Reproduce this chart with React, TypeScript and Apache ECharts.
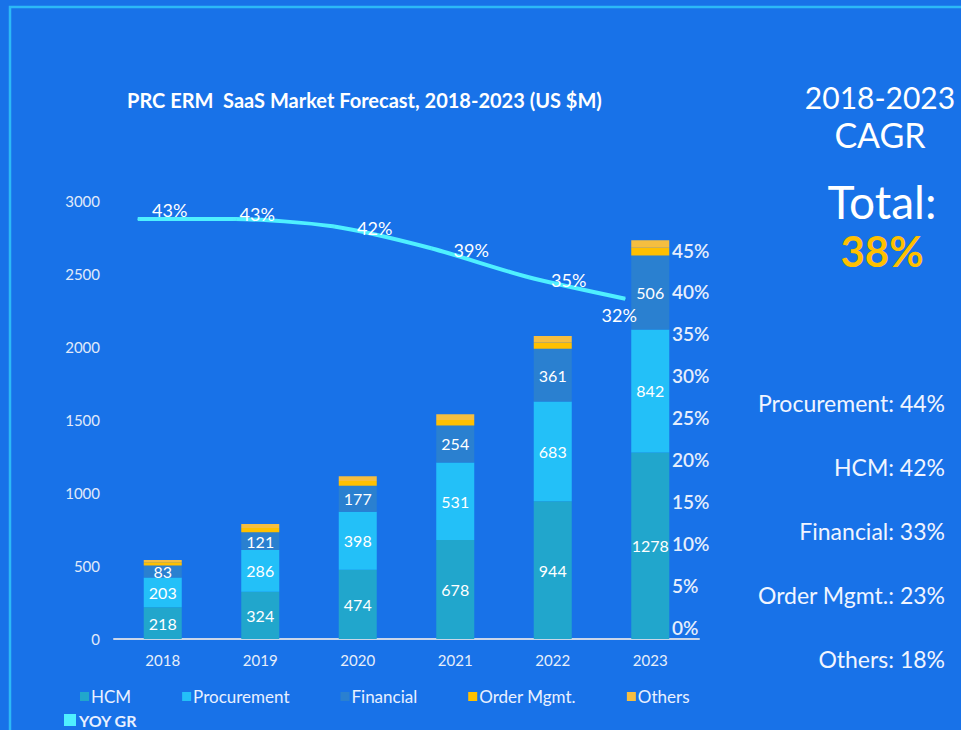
import React, { useEffect, useRef } from "react";
import * as echarts from "echarts";

const years = ["2018", "2019", "2020", "2021", "2022", "2023"];
const hcm = [218, 324, 474, 678, 944, 1278];
const procurement = [203, 286, 398, 531, 683, 842];
const financial = [83, 121, 177, 254, 361, 506];
const orderMgmt = [22, 29, 33, 37, 42, 53];
const others = [15, 27, 32, 39, 45, 52];
const yoyGrowth = [43, 43, 42, 39, 35, 32];
const cagrItems = ["Procurement: 44%", "HCM: 42%", "Financial: 33%", "Order Mgmt.: 23%", "Others: 18%"];
const totalCagr = "38%";
const titleText = "PRC ERM  SaaS Market Forecast, 2018-2023 (US $M)";

const lineLabelOffsets: [number, number][] = [
  [32, -9],
  [22, -5],
  [42, 2],
  [41, 2],
  [41, 3],
  [-6, 16],
];

const FONT = "Lato, 'Open Sans', sans-serif";
const BG = "#1872e8";

export default function App() {
  const ref = useRef<HTMLDivElement>(null);
  useEffect(() => {
    if (!ref.current) return;
    const chart = echarts.init(ref.current, null, { renderer: "svg" });
    const barLabel = {
      show: true,
      position: "inside" as const,
      color: "#ffffff",
      fontSize: 16,
      fontFamily: FONT,
    };
    const mkBar = (name: string, data: number[], color: string, label: boolean) => ({
      name,
      type: "bar",
      stack: "total",
      xAxisIndex: 0,
      yAxisIndex: 0,
      barWidth: 38,
      data,
      itemStyle: { color },
      label: label ? barLabel : { show: false },
    });
    const option: any = {
      animation: false,
      backgroundColor: BG,
      textStyle: { fontFamily: FONT },
      grid: [
        { left: 114, right: 262, top: 201, bottom: 91 },
        { left: 89, right: 287, top: 201, bottom: 91 },
        { left: 114, right: 293, top: 250, bottom: 103 },
      ],
      xAxis: [
        {
          type: "category",
          gridIndex: 0,
          data: years,
          axisLine: { lineStyle: { color: "#c9d6ea", width: 2 } },
          axisTick: { show: false },
          axisLabel: { color: "#e6eefa", fontSize: 15, margin: 13, fontFamily: FONT },
        },
        { type: "category", gridIndex: 1, data: years, show: false },
        { type: "category", gridIndex: 2, data: years, show: false },
      ],
      yAxis: [
        {
          type: "value",
          gridIndex: 0,
          min: 0,
          max: 3000,
          interval: 500,
          axisLine: { show: false },
          axisTick: { show: false },
          splitLine: { show: false },
          axisLabel: {
            color: "#e0eafa",
            fontSize: 15,
            margin: 14,
            fontFamily: FONT,
            formatter: (v: number) => String(v),
          },
        },
        { type: "value", gridIndex: 1, min: -15, max: 45.5, show: false },
        {
          type: "value",
          gridIndex: 2,
          position: "right",
          min: 0,
          max: 45,
          interval: 5,
          axisLine: { show: false },
          axisTick: { show: false },
          splitLine: { show: false },
          axisLabel: {
            color: "#e6eefc",
            fontSize: 19,
            fontWeight: 600,
            margin: 4,
            fontFamily: FONT,
            formatter: "{value}%",
          },
        },
      ],
      legend: [
        {
          left: 80,
          top: 688,
          padding: 0,
          itemWidth: 9,
          itemHeight: 9,
          itemGap: 51,
          icon: "rect",
          textStyle: { color: "#e8f0ff", fontSize: 17, fontFamily: FONT, padding: [0, 0, 0, -3] },
          data: ["HCM", "Procurement", "Financial", "Order Mgmt.", "Others"],
        },
        {
          left: 64,
          top: 712,
          padding: 0,
          itemWidth: 12,
          itemHeight: 12,
          icon: "rect",
          textStyle: { color: "#e8f0ff", fontSize: 16, fontWeight: "bold", fontFamily: FONT, padding: [0, 0, 0, -2] },
          data: ["YOY GR"],
        },
      ],
      series: [
        mkBar("HCM", hcm, "#21a6cc", true),
        mkBar("Procurement", procurement, "#23c0f8", true),
        mkBar("Financial", financial, "#2a80d0", true),
        mkBar("Order Mgmt.", orderMgmt, "#ffc000", false),
        mkBar("Others", others, "#f5be40", false),
        {
          name: "YOY GR",
          type: "line",
          xAxisIndex: 1,
          yAxisIndex: 1,
          smooth: 0.25,
          symbol: "circle",
          symbolSize: 1,
          itemStyle: { color: "#4ff0ff", shadowColor: "rgba(0,0,40,0.5)", shadowBlur: 3, shadowOffsetX: 1, shadowOffsetY: 1 },
          lineStyle: { color: "#4ff0ff", width: 4 },
          data: yoyGrowth.map((v, i) => ({
            value: v,
            label: { offset: lineLabelOffsets[i] },
          })),
          label: {
            show: true,
            position: "inside",
            color: "#ffffff",
            fontSize: 18,
            fontFamily: FONT,
            formatter: "{c}%",
          },
        },
      ],
      graphic: [
        {
          type: "rect",
          shape: { x: 10, y: 7, width: 1000, height: 800 },
          style: { fill: "none", stroke: "#2cb9f6", lineWidth: 2.5 },
          silent: true,
        },
        {
          type: "text",
          x: 127,
          y: 100,
          style: {
            text: titleText,
            fill: "#ffffff",
            font: `bold 20px ${FONT}`,
            textVerticalAlign: "middle",
          },
        },
        {
          type: "text",
          x: 880,
          y: 97,
          style: { text: "2018-2023", fill: "#ffffff", font: `30px ${FONT}`, textAlign: "center", textVerticalAlign: "middle" },
        },
        {
          type: "text",
          x: 880,
          y: 134,
          style: { text: "CAGR", fill: "#ffffff", font: `34px ${FONT}`, textAlign: "center", textVerticalAlign: "middle" },
        },
        {
          type: "text",
          x: 882,
          y: 201,
          style: { text: "Total:", fill: "#ffffff", font: `46px ${FONT}`, textAlign: "center", textVerticalAlign: "middle" },
        },
        {
          type: "text",
          x: 882,
          y: 251,
          style: { text: totalCagr, fill: "#ffc000", font: `bold 42px ${FONT}`, textAlign: "center", textVerticalAlign: "middle" },
        },
        ...cagrItems.map((t, i) => ({
          type: "text",
          x: 945,
          y: 403 + i * 64,
          style: { text: t, fill: "#f0f5ff", font: `23px ${FONT}`, textAlign: "right", textVerticalAlign: "middle" },
        })),
      ],
    };
    chart.setOption(option);
    return () => chart.dispose();
  }, []);
  return (
    <div
      ref={ref}
      style={{ position: "fixed", left: 0, top: 0, width: 961, height: 730, background: BG }}
    />
  );
}
